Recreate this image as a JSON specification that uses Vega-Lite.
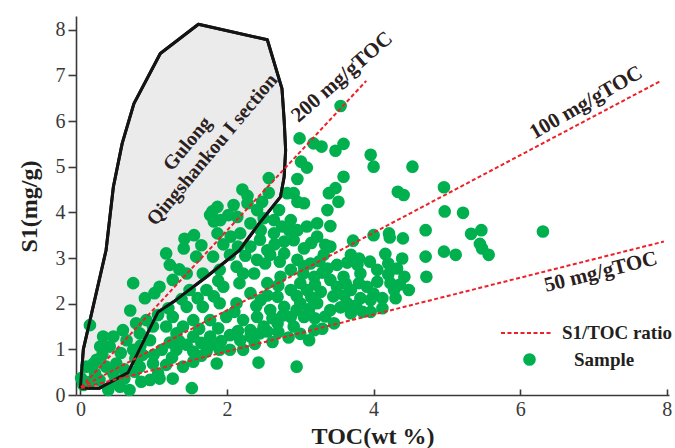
{
  "$schema": "https://vega.github.io/schema/vega-lite/v6.json",
  "width": 593,
  "height": 379,
  "autosize": "none",
  "padding": {"left": 76, "top": 16, "right": 6, "bottom": 53},
  "background": "white",
  "config": {
    "view": {"stroke": null},
    "font": "Liberation Serif",
    "axis": {
      "grid": false,
      "domainColor": "#3a3a3a",
      "domainWidth": 1.6,
      "tickColor": "#3a3a3a",
      "tickWidth": 1.6,
      "labelFont": "Liberation Serif",
      "labelFontSize": 20,
      "labelColor": "#3a3a3a",
      "titleFont": "Liberation Serif",
      "titleFontSize": 24,
      "titleFontWeight": "bold",
      "titleColor": "#231f20"
    }
  },
  "datasets": {
    "samples": [
      {"toc": 3.55, "s1": 6.33}, {"toc": 2.99, "s1": 5.62}, {"toc": 3.18, "s1": 5.51}, {"toc": 3.29, "s1": 5.44},
      {"toc": 3.48, "s1": 5.35}, {"toc": 3.59, "s1": 5.50}, {"toc": 3.96, "s1": 5.26}, {"toc": 4.00, "s1": 5.00},
      {"toc": 4.53, "s1": 5.00}, {"toc": 3.01, "s1": 5.11}, {"toc": 3.09, "s1": 4.98}, {"toc": 3.59, "s1": 4.78},
      {"toc": 2.96, "s1": 4.73}, {"toc": 2.57, "s1": 4.75}, {"toc": 2.57, "s1": 4.43}, {"toc": 2.21, "s1": 4.50},
      {"toc": 2.28, "s1": 4.36}, {"toc": 3.39, "s1": 4.42}, {"toc": 3.48, "s1": 4.53}, {"toc": 4.33, "s1": 4.45},
      {"toc": 4.41, "s1": 4.38}, {"toc": 2.91, "s1": 4.42}, {"toc": 3.52, "s1": 4.23}, {"toc": 4.96, "s1": 4.55},
      {"toc": 4.97, "s1": 4.02}, {"toc": 5.22, "s1": 3.99}, {"toc": 4.71, "s1": 3.61}, {"toc": 4.00, "s1": 3.50},
      {"toc": 4.21, "s1": 3.54}, {"toc": 4.22, "s1": 3.45}, {"toc": 4.40, "s1": 3.43}, {"toc": 3.72, "s1": 3.38},
      {"toc": 3.41, "s1": 3.70}, {"toc": 3.41, "s1": 3.25}, {"toc": 5.33, "s1": 3.53}, {"toc": 5.47, "s1": 3.61},
      {"toc": 5.45, "s1": 3.31}, {"toc": 5.48, "s1": 3.21}, {"toc": 5.57, "s1": 3.07}, {"toc": 6.31, "s1": 3.58},
      {"toc": 3.69, "s1": 3.07}, {"toc": 3.80, "s1": 2.99}, {"toc": 4.16, "s1": 3.09}, {"toc": 4.39, "s1": 2.99},
      {"toc": 4.71, "s1": 3.03}, {"toc": 4.96, "s1": 3.14}, {"toc": 5.12, "s1": 3.07}, {"toc": 4.72, "s1": 2.59},
      {"toc": 4.42, "s1": 2.59}, {"toc": 4.48, "s1": 2.30}, {"toc": 4.28, "s1": 2.30}, {"toc": 4.12, "s1": 2.12},
      {"toc": 4.12, "s1": 1.90}, {"toc": 3.85, "s1": 1.82}, {"toc": 3.96, "s1": 1.82}, {"toc": 3.46, "s1": 1.57},
      {"toc": 3.19, "s1": 1.42}, {"toc": 2.84, "s1": 1.26}, {"toc": 3.12, "s1": 1.20}, {"toc": 2.32, "s1": 1.28},
      {"toc": 2.55, "s1": 1.39}, {"toc": 2.43, "s1": 0.71}, {"toc": 2.95, "s1": 0.62}, {"toc": 0.72, "s1": 2.45},
      {"toc": 0.68, "s1": 1.85}, {"toc": 0.13, "s1": 1.53}, {"toc": 1.22, "s1": 2.85}, {"toc": 1.01, "s1": 2.23},
      {"toc": 0.88, "s1": 2.12}, {"toc": 0.90, "s1": 1.64}, {"toc": 0.31, "s1": 1.28}, {"toc": 0.40, "s1": 1.06},
      {"toc": 0.58, "s1": 1.42}, {"toc": 0.63, "s1": 1.20}, {"toc": 0.72, "s1": 0.99}, {"toc": 0.22, "s1": 0.77},
      {"toc": 0.08, "s1": 0.62}, {"toc": 0.01, "s1": 0.37}, {"toc": 0.04, "s1": 0.22}, {"toc": 0.26, "s1": 0.33},
      {"toc": 0.35, "s1": 0.62}, {"toc": 0.49, "s1": 0.69}, {"toc": 0.38, "s1": 0.11}, {"toc": 0.54, "s1": 0.18},
      {"toc": 0.67, "s1": 0.11}, {"toc": 0.60, "s1": 0.36}, {"toc": 0.83, "s1": 0.29}, {"toc": 0.95, "s1": 0.33},
      {"toc": 1.08, "s1": 0.36}, {"toc": 1.26, "s1": 0.36}, {"toc": 1.52, "s1": 0.15}, {"toc": 0.81, "s1": 0.62},
      {"toc": 0.99, "s1": 0.69}, {"toc": 1.17, "s1": 0.66}, {"toc": 1.40, "s1": 0.62}, {"toc": 1.86, "s1": 0.69},
      {"toc": 2.04, "s1": 0.99}, {"toc": 2.22, "s1": 0.99}, {"toc": 1.72, "s1": 0.95}, {"toc": 1.54, "s1": 0.95},
      {"toc": 1.31, "s1": 0.99}, {"toc": 1.11, "s1": 0.99}, {"toc": 0.95, "s1": 1.20}, {"toc": 1.31, "s1": 1.35},
      {"toc": 1.54, "s1": 1.28}, {"toc": 1.77, "s1": 1.28}, {"toc": 2.04, "s1": 1.31}, {"toc": 1.54, "s1": 1.64},
      {"toc": 1.77, "s1": 1.64}, {"toc": 1.99, "s1": 1.71}, {"toc": 2.22, "s1": 1.64}, {"toc": 1.26, "s1": 1.71},
      {"toc": 1.45, "s1": 1.93}, {"toc": 1.67, "s1": 1.93}, {"toc": 1.90, "s1": 2.01}, {"toc": 2.13, "s1": 2.01},
      {"toc": 1.49, "s1": 2.30}, {"toc": 1.72, "s1": 2.30}, {"toc": 1.95, "s1": 2.37}, {"toc": 2.17, "s1": 2.45},
      {"toc": 1.67, "s1": 2.66}, {"toc": 1.90, "s1": 2.74}, {"toc": 2.13, "s1": 2.81}, {"toc": 1.45, "s1": 2.66},
      {"toc": 1.26, "s1": 2.52}, {"toc": 1.08, "s1": 2.37}, {"toc": 1.58, "s1": 3.03}, {"toc": 1.81, "s1": 3.03},
      {"toc": 2.04, "s1": 3.07}, {"toc": 1.17, "s1": 3.10}, {"toc": 1.41, "s1": 3.21}, {"toc": 1.55, "s1": 3.50},
      {"toc": 1.77, "s1": 3.94}, {"toc": 1.87, "s1": 4.12}, {"toc": 2.09, "s1": 4.16}, {"toc": 1.91, "s1": 3.83},
      {"toc": 2.28, "s1": 4.20}, {"toc": 2.02, "s1": 3.94}, {"toc": 0.45, "s1": 1.28}, {"toc": 0.27, "s1": 1.06},
      {"toc": 0.18, "s1": 0.69}, {"toc": 2.82, "s1": 4.42}, {"toc": 2.96, "s1": 4.23}, {"toc": 3.05, "s1": 4.20},
      {"toc": 3.37, "s1": 4.05}, {"toc": 1.80, "s1": 4.02}, {"toc": 1.82, "s1": 3.80}, {"toc": 2.14, "s1": 3.90},
      {"toc": 2.32, "s1": 3.76}, {"toc": 2.41, "s1": 4.05}, {"toc": 2.48, "s1": 4.23}, {"toc": 2.50, "s1": 3.87},
      {"toc": 2.64, "s1": 3.83}, {"toc": 2.71, "s1": 4.05}, {"toc": 2.75, "s1": 3.69}, {"toc": 2.87, "s1": 3.83},
      {"toc": 3.09, "s1": 3.69}, {"toc": 3.23, "s1": 3.76}, {"toc": 2.96, "s1": 3.61}, {"toc": 3.23, "s1": 3.47},
      {"toc": 3.34, "s1": 3.29}, {"toc": 1.87, "s1": 3.54}, {"toc": 2.05, "s1": 3.47}, {"toc": 2.18, "s1": 3.54},
      {"toc": 2.46, "s1": 3.61}, {"toc": 2.64, "s1": 3.54}, {"toc": 2.78, "s1": 3.36}, {"toc": 2.91, "s1": 3.39},
      {"toc": 3.05, "s1": 3.21}, {"toc": 2.32, "s1": 3.25}, {"toc": 2.55, "s1": 3.17}, {"toc": 2.78, "s1": 3.10},
      {"toc": 2.41, "s1": 2.96}, {"toc": 2.59, "s1": 3.07}, {"toc": 2.96, "s1": 2.96}, {"toc": 3.14, "s1": 2.88},
      {"toc": 3.32, "s1": 3.07}, {"toc": 3.37, "s1": 2.77}, {"toc": 3.50, "s1": 2.85}, {"toc": 3.78, "s1": 2.85},
      {"toc": 4.05, "s1": 2.74}, {"toc": 4.32, "s1": 2.77}, {"toc": 2.37, "s1": 2.66}, {"toc": 2.55, "s1": 2.45},
      {"toc": 2.73, "s1": 2.59}, {"toc": 2.87, "s1": 2.74}, {"toc": 3.00, "s1": 2.45}, {"toc": 3.19, "s1": 2.59},
      {"toc": 3.41, "s1": 2.52}, {"toc": 3.59, "s1": 2.59}, {"toc": 3.82, "s1": 2.66}, {"toc": 3.91, "s1": 2.37},
      {"toc": 3.69, "s1": 2.30}, {"toc": 3.50, "s1": 2.37}, {"toc": 3.28, "s1": 2.26}, {"toc": 3.09, "s1": 2.30},
      {"toc": 2.87, "s1": 2.30}, {"toc": 2.69, "s1": 2.15}, {"toc": 2.46, "s1": 2.08}, {"toc": 2.32, "s1": 2.23},
      {"toc": 2.78, "s1": 1.93}, {"toc": 3.00, "s1": 2.01}, {"toc": 3.23, "s1": 2.01}, {"toc": 3.41, "s1": 1.86},
      {"toc": 3.64, "s1": 2.01}, {"toc": 3.82, "s1": 2.12}, {"toc": 2.59, "s1": 1.86}, {"toc": 2.41, "s1": 1.71},
      {"toc": 2.87, "s1": 1.71}, {"toc": 3.05, "s1": 1.71}, {"toc": 2.69, "s1": 1.57}, {"toc": 2.50, "s1": 1.50},
      {"toc": 2.91, "s1": 1.50}, {"toc": 2.32, "s1": 1.42}, {"toc": 4.05, "s1": 2.48}, {"toc": 4.23, "s1": 2.45},
      {"toc": 3.69, "s1": 1.79}, {"toc": 3.96, "s1": 2.08}, {"toc": 1.20, "s1": 1.90}, {"toc": 1.06, "s1": 1.75},
      {"toc": 1.40, "s1": 1.50}, {"toc": 1.17, "s1": 1.50}, {"toc": 0.99, "s1": 1.50}, {"toc": 0.81, "s1": 1.35},
      {"toc": 0.76, "s1": 1.57}, {"toc": 0.45, "s1": 0.47}, {"toc": 0.20, "s1": 0.47}, {"toc": 0.13, "s1": 0.29},
      {"toc": 0.74, "s1": 0.51}, {"toc": 1.06, "s1": 0.47}, {"toc": 1.54, "s1": 0.73}, {"toc": 1.77, "s1": 1.09},
      {"toc": 1.90, "s1": 0.99}, {"toc": 2.18, "s1": 1.20}, {"toc": 0.30, "s1": 0.88}, {"toc": 0.55, "s1": 0.92},
      {"toc": 0.85, "s1": 0.88}, {"toc": 0.47, "s1": 0.30}, {"toc": 0.75, "s1": 0.80},
      {"toc": 2.52, "s1": 2.88}, {"toc": 2.72, "s1": 2.92}, {"toc": 3.05, "s1": 2.82}, {"toc": 3.26, "s1": 2.93},
      {"toc": 3.64, "s1": 2.90}, {"toc": 3.95, "s1": 2.92}, {"toc": 4.20, "s1": 2.88}, {"toc": 2.22, "s1": 2.66},
      {"toc": 3.04, "s1": 2.66}, {"toc": 3.30, "s1": 2.68}, {"toc": 4.20, "s1": 2.64}, {"toc": 2.70, "s1": 2.40},
      {"toc": 3.20, "s1": 2.42}, {"toc": 3.62, "s1": 2.44}, {"toc": 3.80, "s1": 2.45}, {"toc": 4.36, "s1": 2.42},
      {"toc": 2.55, "s1": 2.18}, {"toc": 2.95, "s1": 2.17}, {"toc": 3.15, "s1": 2.14}, {"toc": 3.45, "s1": 2.16},
      {"toc": 3.60, "s1": 2.18}, {"toc": 4.00, "s1": 2.22}, {"toc": 4.30, "s1": 2.12}, {"toc": 2.40, "s1": 1.95},
      {"toc": 2.95, "s1": 1.86}, {"toc": 3.12, "s1": 1.88}, {"toc": 3.55, "s1": 1.92}, {"toc": 3.76, "s1": 1.96},
      {"toc": 2.10, "s1": 1.82}, {"toc": 2.62, "s1": 1.68}, {"toc": 2.76, "s1": 1.74}, {"toc": 3.20, "s1": 1.68},
      {"toc": 3.34, "s1": 1.72}, {"toc": 2.15, "s1": 1.40}, {"toc": 2.45, "s1": 1.35}, {"toc": 2.70, "s1": 1.38},
      {"toc": 3.00, "s1": 1.34}, {"toc": 3.30, "s1": 1.45}, {"toc": 1.92, "s1": 1.18}, {"toc": 2.38, "s1": 1.12},
      {"toc": 2.62, "s1": 1.16}, {"toc": 1.65, "s1": 0.86}, {"toc": 1.25, "s1": 0.82}, {"toc": 1.00, "s1": 0.88},
      {"toc": 1.22, "s1": 1.15}, {"toc": 1.45, "s1": 1.10}, {"toc": 1.65, "s1": 1.14}, {"toc": 2.25, "s1": 3.05},
      {"toc": 2.45, "s1": 3.40}, {"toc": 2.65, "s1": 3.30}, {"toc": 2.15, "s1": 3.25}, {"toc": 1.95, "s1": 3.30},
      {"toc": 3.15, "s1": 3.33}, {"toc": 2.85, "s1": 3.60}, {"toc": 1.35, "s1": 2.75}, {"toc": 1.65, "s1": 3.28},
      {"toc": 1.42, "s1": 3.42}, {"toc": 1.88, "s1": 2.50}, {"toc": 1.60, "s1": 2.12}, {"toc": 1.82, "s1": 2.16},
      {"toc": 1.38, "s1": 2.10}, {"toc": 1.62, "s1": 1.45}, {"toc": 1.88, "s1": 1.46}, {"toc": 1.35, "s1": 1.18},
      {"toc": 0.82, "s1": 1.08}, {"toc": 0.60, "s1": 0.56}
    ],
    "outline": [
      {"i": 0, "toc": 0.00, "s1": 0.15}, {"i": 1, "toc": 0.26, "s1": 0.15}, {"i": 2, "toc": 0.65, "s1": 0.49},
      {"i": 3, "toc": 1.06, "s1": 1.82}, {"i": 4, "toc": 1.27, "s1": 2.04}, {"i": 5, "toc": 1.73, "s1": 2.60},
      {"i": 6, "toc": 2.17, "s1": 3.17}, {"i": 7, "toc": 2.46, "s1": 3.80}, {"i": 8, "toc": 2.73, "s1": 4.34},
      {"i": 9, "toc": 2.78, "s1": 4.78}, {"i": 10, "toc": 2.80, "s1": 5.36}, {"i": 11, "toc": 2.78, "s1": 6.02},
      {"i": 12, "toc": 2.75, "s1": 6.71}, {"i": 13, "toc": 2.55, "s1": 7.78}, {"i": 14, "toc": 1.61, "s1": 8.12},
      {"i": 15, "toc": 1.09, "s1": 7.48}, {"i": 16, "toc": 0.73, "s1": 6.38}, {"i": 17, "toc": 0.57, "s1": 5.51},
      {"i": 18, "toc": 0.45, "s1": 4.56}, {"i": 19, "toc": 0.35, "s1": 3.17}, {"i": 20, "toc": 0.04, "s1": 1.00},
      {"i": 21, "toc": 0.00, "s1": 0.15}
    ],
    "ratios": [
      {"ratio": "200 mg/gTOC", "toc": 0.01, "s1": 0.17}, {"ratio": "200 mg/gTOC", "toc": 3.90, "s1": 6.88},
      {"ratio": "100 mg/gTOC", "toc": 0.01, "s1": 0.17}, {"ratio": "100 mg/gTOC", "toc": 7.92, "s1": 6.88},
      {"ratio": "50 mg/gTOC", "toc": 0.01, "s1": 0.15}, {"ratio": "50 mg/gTOC", "toc": 7.96, "s1": 3.36}
    ]
  },
  "layer": [
    {
      "data": {"name": "outline"},
      "mark": {"type": "line", "fill": "#ebebeb", "stroke": "#141414", "strokeWidth": 3, "strokeJoin": "round"},
      "encoding": {
        "x": {
          "field": "toc", "type": "quantitative",
          "scale": {"domain": [-0.06, 8.03], "nice": false, "zero": false},
          "axis": {"title": "TOC(wt %)", "values": [0, 2, 4, 6, 8], "format": "d", "tickSize": -6, "labelPadding": 10,
                   "titleBaseline": "middle", "titleY": 41}
        },
        "y": {
          "field": "s1", "type": "quantitative",
          "scale": {"domain": [0, 8.3], "nice": false},
          "axis": {"title": "S1(mg/g)", "values": [0, 1, 2, 3, 4, 5, 6, 7, 8], "format": "d", "tickSize": 8, "labelPadding": 3,
                   "titleAlign": "center", "titleBaseline": "middle", "titleX": -47, "titleY": 190}
        },
        "order": {"field": "i", "type": "quantitative"}
      }
    },
    {
      "data": {"name": "samples"},
      "mark": {"type": "circle", "size": 160, "opacity": 1},
      "encoding": {
        "x": {"field": "toc", "type": "quantitative"},
        "y": {"field": "s1", "type": "quantitative"},
        "fill": {
          "datum": "Sample", "type": "nominal",
          "scale": {"range": ["#00b04f"]},
          "legend": {"orient": "none", "legendX": 444, "legendY": 334, "title": null, "padding": 0,
                     "symbolType": "circle", "symbolSize": 160, "symbolStrokeWidth": 0, "symbolOpacity": 1,
                     "labelFont": "Liberation Serif", "labelFontSize": 19, "labelFontWeight": "bold",
                     "labelColor": "#231f20", "labelOffset": 35}
        }
      }
    },
    {
      "data": {"name": "outline"},
      "mark": {"type": "line", "stroke": "#141414", "strokeWidth": 3, "strokeJoin": "round"},
      "encoding": {
        "x": {"field": "toc", "type": "quantitative"},
        "y": {"field": "s1", "type": "quantitative"},
        "order": {"field": "i", "type": "quantitative"}
      }
    },
    {
      "data": {"name": "ratios"},
      "mark": {"type": "line", "strokeWidth": 2, "strokeDash": [4, 2.5]},
      "encoding": {
        "x": {"field": "toc", "type": "quantitative"},
        "y": {"field": "s1", "type": "quantitative"},
        "detail": {"field": "ratio"},
        "stroke": {
          "datum": "S1/TOC ratio", "type": "nominal",
          "scale": {"range": ["#ee2027"]},
          "legend": {"orient": "none", "legendX": 424, "legendY": 291, "title": null, "padding": 0,
                     "symbolType": "stroke", "symbolSize": 2500, "symbolDash": [4, 2.5], "symbolStrokeWidth": 2,
                     "labelFont": "Liberation Serif", "labelFontSize": 19, "labelFontWeight": "bold",
                     "labelColor": "#231f20", "labelOffset": 10}
        }
      }
    },
    {
      "data": {"values": [{"label": "200 mg/gTOC", "toc": 3.57, "s1": 6.96}]},
      "mark": {"type": "text", "angle": -41, "font": "Liberation Serif", "fontSize": 21, "fontWeight": "bold", "color": "#2a2020"},
      "encoding": {"x": {"field": "toc", "type": "quantitative"}, "y": {"field": "s1", "type": "quantitative"}, "text": {"field": "label"}}
    },
    {
      "data": {"values": [{"label": "100 mg/gTOC", "toc": 6.90, "s1": 6.40}]},
      "mark": {"type": "text", "angle": -30, "font": "Liberation Serif", "fontSize": 21, "fontWeight": "bold", "color": "#2a2020"},
      "encoding": {"x": {"field": "toc", "type": "quantitative"}, "y": {"field": "s1", "type": "quantitative"}, "text": {"field": "label"}}
    },
    {
      "data": {"values": [{"label": "50 mg/gTOC", "toc": 7.10, "s1": 2.69}]},
      "mark": {"type": "text", "angle": -14, "font": "Liberation Serif", "fontSize": 21, "fontWeight": "bold", "color": "#2a2020"},
      "encoding": {"x": {"field": "toc", "type": "quantitative"}, "y": {"field": "s1", "type": "quantitative"}, "text": {"field": "label"}}
    },
    {
      "data": {"values": [{"label": "Gulong", "toc": 1.46, "s1": 5.50}, {"label": "Qingshankou I section", "toc": 1.80, "s1": 5.37}]},
      "mark": {"type": "text", "angle": -50, "font": "Liberation Serif", "fontSize": 20, "fontWeight": "bold", "color": "#2a2020"},
      "encoding": {"x": {"field": "toc", "type": "quantitative"}, "y": {"field": "s1", "type": "quantitative"}, "text": {"field": "label"}}
    }
  ]
}
